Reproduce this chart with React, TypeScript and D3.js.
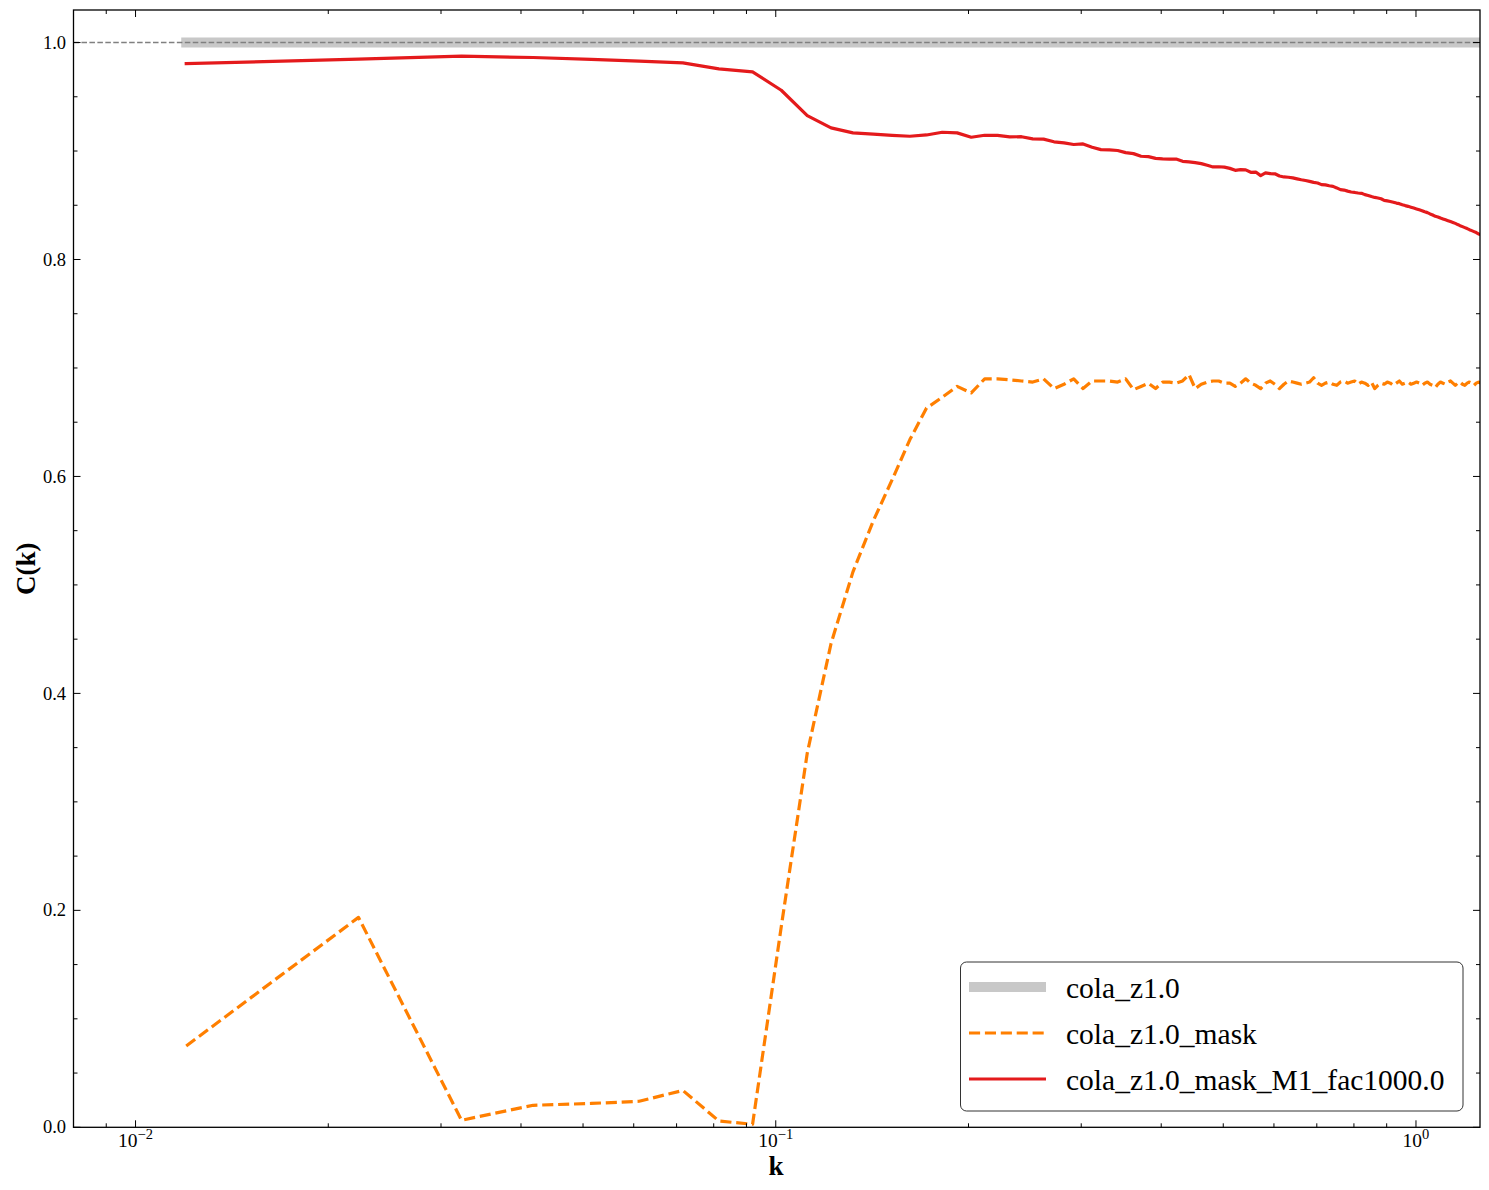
import React from 'react';
import * as d3 from 'd3';

// k bins
const kValues = [
  0.012, 0.0223, 0.0323, 0.0418, 0.0515, 0.0612, 0.0716, 0.0815, 0.092, 0.102,
  0.112, 0.122, 0.132, 0.142, 0.152, 0.162, 0.172, 0.182, 0.192, 0.202,
  0.212, 0.222, 0.232, 0.242, 0.252, 0.262, 0.272, 0.282, 0.292, 0.302,
  0.312, 0.322, 0.332, 0.342, 0.352, 0.362, 0.372, 0.382, 0.392, 0.402,
  0.412, 0.422, 0.432, 0.442, 0.452, 0.462, 0.472, 0.482, 0.492, 0.502,
  0.512, 0.522, 0.532, 0.542, 0.552, 0.562, 0.572, 0.582, 0.592, 0.602,
  0.612, 0.622, 0.632, 0.642, 0.652, 0.662, 0.672, 0.682, 0.692, 0.702,
  0.712, 0.722, 0.732, 0.742, 0.752, 0.762, 0.772, 0.782, 0.792, 0.802,
  0.812, 0.822, 0.832, 0.842, 0.852, 0.862, 0.872, 0.882, 0.892, 0.902,
  0.912, 0.922, 0.932, 0.942, 0.952, 0.962, 0.972, 0.982, 0.992, 1.002,
  1.012, 1.022, 1.032, 1.042, 1.052, 1.062, 1.072, 1.082, 1.092, 1.102,
  1.112, 1.122, 1.132, 1.142, 1.152, 1.162, 1.172, 1.182, 1.192, 1.202,
  1.212, 1.222, 1.232, 1.242, 1.252, 1.262,
];

// cola_z1.0 reference (C = 1 everywhere)
const refValue = 1.0;

// cola_z1.0_mask
const maskValues = [
  0.075, 0.1935, 0.0065, 0.0203, 0.022, 0.024, 0.034, 0.0058, 0.0028, 0.185,
  0.345, 0.446, 0.512, 0.559, 0.597, 0.634, 0.663, 0.673, 0.683, 0.677,
  0.690, 0.690, 0.689, 0.688, 0.687, 0.690, 0.681, 0.685, 0.690, 0.681,
  0.688, 0.688, 0.688, 0.687, 0.690, 0.680, 0.683, 0.686, 0.681, 0.687,
  0.687, 0.686, 0.688, 0.694, 0.681, 0.685, 0.687, 0.688, 0.688, 0.686,
  0.686, 0.683, 0.686, 0.690, 0.686, 0.684, 0.681, 0.686, 0.688, 0.685,
  0.681, 0.685, 0.688, 0.687, 0.686, 0.685, 0.686, 0.687, 0.691, 0.686,
  0.684, 0.686, 0.687, 0.685, 0.684, 0.687, 0.688, 0.686, 0.687, 0.688,
  0.685, 0.687, 0.686, 0.684, 0.687, 0.681, 0.684, 0.686, 0.685, 0.687,
  0.686, 0.684, 0.686, 0.688, 0.685, 0.686, 0.687, 0.685, 0.686, 0.687,
  0.686, 0.684, 0.686, 0.687, 0.685, 0.684, 0.682, 0.685, 0.687, 0.686,
  0.685, 0.687, 0.688, 0.686, 0.684, 0.686, 0.687, 0.685, 0.684, 0.686,
  0.687, 0.686, 0.684, 0.686, 0.687, 0.686,
];

// cola_z1.0_mask_M1_fac1000.0
const m1Values = [
  0.9806, 0.9847, 0.9874, 0.9862, 0.9845, 0.9828, 0.9813, 0.9757, 0.9730, 0.9560,
  0.9327, 0.9213, 0.9167, 0.9155, 0.9145, 0.9136, 0.9148, 0.9173, 0.9167, 0.9127,
  0.9145, 0.9145, 0.9130, 0.9132, 0.9112, 0.9110, 0.9085, 0.9075, 0.9060, 0.9065,
  0.9035, 0.9013, 0.9010, 0.9005, 0.8985, 0.8976, 0.8952, 0.8948, 0.8932, 0.8927,
  0.8925, 0.8926, 0.8905, 0.8900, 0.8893, 0.8884, 0.8868, 0.8853, 0.8855, 0.8852,
  0.8840, 0.8822, 0.8828, 0.8826, 0.8804, 0.8806, 0.8773, 0.8798, 0.8792, 0.8790,
  0.8770, 0.8761, 0.8758, 0.8752, 0.8743, 0.8735, 0.8728, 0.8720, 0.8711, 0.8705,
  0.8690, 0.8688, 0.8680, 0.8674, 0.8660, 0.8644, 0.8640, 0.8630, 0.8622, 0.8618,
  0.8613, 0.8610, 0.8598, 0.8590, 0.8580, 0.8572, 0.8567, 0.8560, 0.8545, 0.8540,
  0.8535, 0.8528, 0.8520, 0.8515, 0.8505, 0.8497, 0.8490, 0.8482, 0.8474, 0.8466,
  0.8458, 0.8450, 0.8440, 0.8432, 0.8420, 0.8410, 0.8398, 0.8392, 0.8382, 0.8374,
  0.8366, 0.8358, 0.8350, 0.8342, 0.8333, 0.8322, 0.8312, 0.8303, 0.8294, 0.8285,
  0.8275, 0.8266, 0.8257, 0.8248, 0.8236, 0.8229,
];

const yMajorTicks = [0, 0.2, 0.4, 0.6, 0.8, 1.0];
const yMinorTicks = [0.05, 0.1, 0.15, 0.25, 0.3, 0.35, 0.45, 0.5, 0.55, 0.65, 0.7, 0.75, 0.85, 0.9, 0.95];
const xMajorTicks = [0.01, 0.1, 1];
const xMajorExponents = ['\u22122', '\u22121', '0'];
const xMinorTicks = [0.008, 0.009, 0.02, 0.03, 0.04, 0.05, 0.06, 0.07, 0.08, 0.09, 0.2, 0.3, 0.4, 0.5, 0.6, 0.7, 0.8, 0.9];
const legendLabels = ['cola_z1.0', 'cola_z1.0_mask', 'cola_z1.0_mask_M1_fac1000.0'];

const W = 1489;
const H = 1190;
const L = 73.5;
const R = 1480;
const T = 10;
const B = 1127.3;
const FONT = '"Liberation Serif", "DejaVu Serif", serif';

const GRAY = '#c8c8c8';
const ORANGE = '#ff7f00';
const RED = '#e41a1c';

export default function App() {
  const x = d3.scaleLog().domain([0.008, Math.pow(10, 0.1)]).range([L, R]);
  const y = d3.scaleLinear().domain([0, 1.03]).range([B, T]);

  const pts = (vals: number[]) => kValues.map((k, i) => [k, vals[i]] as [number, number]);
  const line = d3
    .line<[number, number]>()
    .x((d) => x(d[0]))
    .y((d) => y(d[1]));

  const refPath = line([[kValues[0], refValue], [kValues[kValues.length - 1], refValue]]) || '';
  const maskPath = line(pts(maskValues)) || '';
  const m1Path = line(pts(m1Values)) || '';

  const majLen = 7;
  const minLen = 4;

  const legendY = [987, 1033, 1079];

  return (
    <svg
      width={W}
      height={H}
      style={{ position: 'absolute', left: 0, top: 0, background: '#fff' }}
      fontFamily={FONT}
    >
      <defs>
        <clipPath id="plotclip">
          <rect x={L} y={T} width={R - L} height={B - T} />
        </clipPath>
      </defs>
      <rect x={0} y={0} width={W} height={H} fill="#fff" />

      <g clipPath="url(#plotclip)">
        <path d={refPath} fill="none" stroke={GRAY} strokeWidth={10} strokeLinecap="square" />
        <line
          x1={L}
          x2={R}
          y1={y(1)}
          y2={y(1)}
          stroke="#808080"
          strokeWidth={1.6}
          strokeDasharray="5.55,2.4"
        />
        <path
          d={maskPath}
          fill="none"
          stroke={ORANGE}
          strokeWidth={3.2}
          strokeDasharray="11.1,4.8"
          strokeLinejoin="round"
        />
        <path
          d={m1Path}
          fill="none"
          stroke={RED}
          strokeWidth={3.2}
          strokeLinejoin="round"
          strokeLinecap="square"
        />
      </g>

      {/* ticks */}
      <g stroke="#000" strokeWidth={1}>
        {xMajorTicks.map((t) => (
          <g key={'xM' + t}>
            <line x1={x(t)} x2={x(t)} y1={B} y2={B - majLen} />
            <line x1={x(t)} x2={x(t)} y1={T} y2={T + majLen} />
          </g>
        ))}
        {xMinorTicks.map((t) => (
          <g key={'xm' + t}>
            <line x1={x(t)} x2={x(t)} y1={B} y2={B - minLen} />
            <line x1={x(t)} x2={x(t)} y1={T} y2={T + minLen} />
          </g>
        ))}
        {yMajorTicks.map((t) => (
          <g key={'yM' + t}>
            <line x1={L} x2={L + majLen} y1={y(t)} y2={y(t)} />
            <line x1={R} x2={R - majLen} y1={y(t)} y2={y(t)} />
          </g>
        ))}
        {yMinorTicks.map((t) => (
          <g key={'ym' + t}>
            <line x1={L} x2={L + minLen} y1={y(t)} y2={y(t)} />
            <line x1={R} x2={R - minLen} y1={y(t)} y2={y(t)} />
          </g>
        ))}
      </g>

      {/* frame */}
      <rect x={L} y={T} width={R - L} height={B - T} fill="none" stroke="#000" strokeWidth={1.3} />

      {/* tick labels */}
      {yMajorTicks.map((t) => (
        <text key={'yl' + t} x={66} y={y(t)} dy="0.33em" textAnchor="end" fontSize={18.5} fill="#000">
          {t.toFixed(1)}
        </text>
      ))}
      {xMajorTicks.map((t, i) => (
        <text key={'xl' + t} x={x(t)} y={1147} textAnchor="middle" fontSize={19.5} fill="#000">
          <tspan>10</tspan>
          <tspan dy={-8} fontSize={14.5}>
            {xMajorExponents[i]}
          </tspan>
        </text>
      ))}

      {/* axis labels */}
      <text x={776} y={1175} textAnchor="middle" fontSize={27} fontWeight="bold" fill="#000">
        k
      </text>
      <text
        transform={`translate(35,${(T + B) / 2}) rotate(-90)`}
        textAnchor="middle"
        fontSize={27}
        fontWeight="bold"
        fill="#000"
      >
        C(k)
      </text>

      {/* legend */}
      <g>
        <rect
          x={960.5}
          y={962}
          width={502.5}
          height={149}
          rx={6}
          fill="#fff"
          fillOpacity={0.8}
          stroke="#333"
          strokeWidth={1}
        />
        <line x1={969} x2={1046} y1={legendY[0]} y2={legendY[0]} stroke={GRAY} strokeWidth={10} />
        <line
          x1={969}
          x2={1046}
          y1={legendY[1]}
          y2={legendY[1]}
          stroke={ORANGE}
          strokeWidth={3.2}
          strokeDasharray="11.1,4.8"
        />
        <line x1={969} x2={1046} y1={legendY[2]} y2={legendY[2]} stroke={RED} strokeWidth={3.2} />
        {legendLabels.map((lab, i) => (
          <text key={lab} x={1066} y={legendY[i] + 11} fontSize={29.5} fill="#000">
            {lab}
          </text>
        ))}
      </g>
    </svg>
  );
}
